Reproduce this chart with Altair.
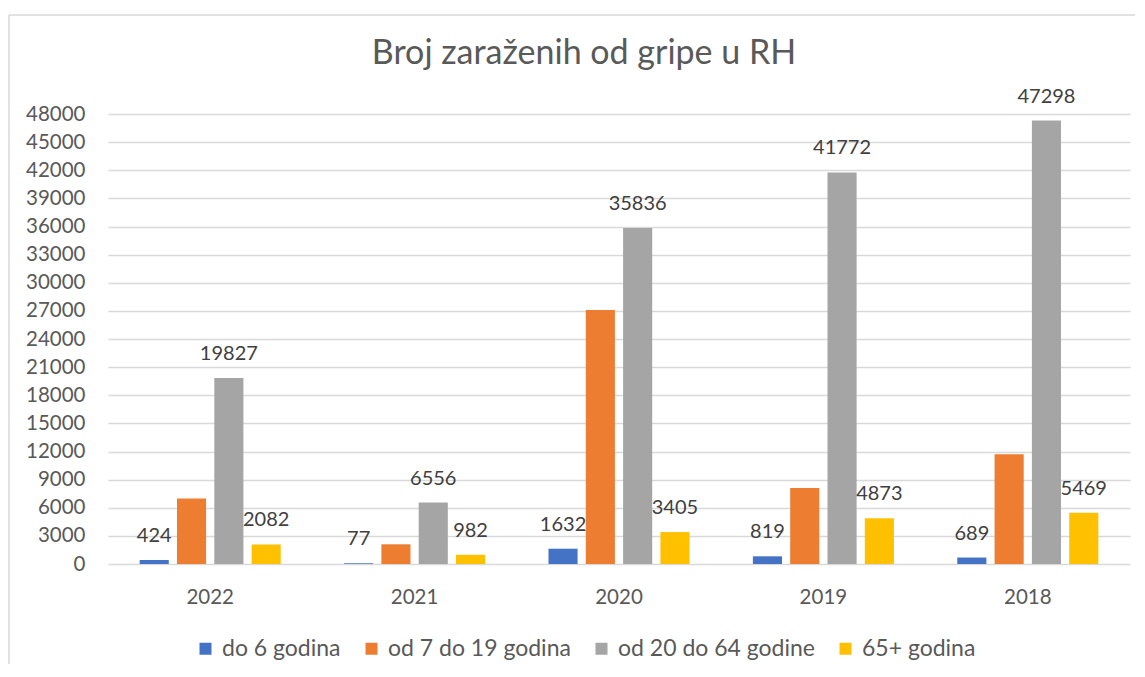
import altair as alt
import pandas as pd

years = ["2022", "2021", "2020", "2019", "2018"]
groups = ["do 6 godina", "od 7 do 19 godina", "od 20 do 64 godine", "65+ godina"]
do6 = [424, 77, 1632, 819, 689]
od7_19 = [7000, 2100, 27100, 8100, 11700]
od20_64 = [19827, 6556, 35836, 41772, 47298]
p65 = [2082, 982, 3405, 4873, 5469]
colors = ["#4472C4", "#ED7D31", "#A5A5A5", "#FFC000"]
labelled = [True, False, True, True]
yticks = list(range(0, 48001, 3000))
title = ["Broj zaraženih od gripe u RH"]

series = [do6, od7_19, od20_64, p65]
rows = []
for gi, g in enumerate(groups):
    for yi, yr in enumerate(years):
        rows.append({"year": yr, "group": g, "value": series[gi][yi], "lab": labelled[gi]})
df = pd.DataFrame(rows)

FONT = "Lato"

x_enc = alt.X("year:N", sort=years, title=None,
              scale=alt.Scale(paddingInner=0.31, paddingOuter=0.155),
              axis=alt.Axis(labelFont=FONT, labelFontSize=20.5, labelColor="#595959",
                            labelAngle=0, domain=False, ticks=False, tickSize=0,
                            labelPadding=39, labelBaseline="alphabetic"))
xo_enc = alt.XOffset("group:N", sort=groups,
                     scale=alt.Scale(paddingInner=0.22, paddingOuter=0))
y_enc = alt.Y("value:Q", title=None,
              scale=alt.Scale(domain=[0, 48000], nice=False),
              axis=alt.Axis(values=yticks, labelFont=FONT, labelFontSize=20.5,
                            labelColor="#595959", domain=False, ticks=False, tickSize=0,
                            labelPadding=23, grid=True, gridColor="#D9D9D9",
                            gridWidth=1.4, format="d"))

bars = alt.Chart(df).mark_bar().encode(
    x=x_enc, xOffset=xo_enc, y=y_enc,
    color=alt.Color("group:N", sort=groups,
                    scale=alt.Scale(domain=groups, range=colors),
                    legend=alt.Legend(title=None, orient="none", direction="horizontal",
                                      legendX=86, legendY=523, padding=0,
                                      symbolType="square", symbolSize=144,
                                      symbolStrokeWidth=0, labelFont=FONT,
                                      labelFontSize=23, labelColor="#595959",
                                      labelOffset=5, columnPadding=19,
                                      labelLimit=400)),
)

labels = alt.Chart(df).transform_filter("datum.lab").mark_text(
    font=FONT, fontSize=20, color="#404040", baseline="alphabetic", dy=-18
).encode(x=x_enc, xOffset=xo_enc, y=y_enc, text=alt.Text("value:Q", format="d"))

title_df = pd.DataFrame({"t": title})
title_mark = alt.Chart(title_df).mark_text(
    font=FONT, fontSize=34, color="#595959", align="center", baseline="alphabetic"
).encode(x=alt.value(476), y=alt.value(-50), text="t:N")

border_data = alt.Data(values=[{"k": 1}])
left_line = alt.Chart(border_data).mark_rule(color="#D9D9D9", strokeWidth=1.5).encode(
    x=alt.value(-99), y=alt.value(-99), y2=alt.value(556))
top_line = alt.Chart(border_data).mark_rule(color="#D9D9D9", strokeWidth=1.5).encode(
    x=alt.value(-99), x2=alt.value(1030), y=alt.value(-99))

chart = alt.layer(left_line, top_line, bars, labels, title_mark).properties(
    width=1022, height=450,
    autosize=alt.AutoSizeParams(type="none"),
    padding={"left": 100, "top": 106, "right": 5, "bottom": 100},
).configure_view(stroke=None)

chart.save("out.html", embed_options={"renderer": "svg", "actions": False})
